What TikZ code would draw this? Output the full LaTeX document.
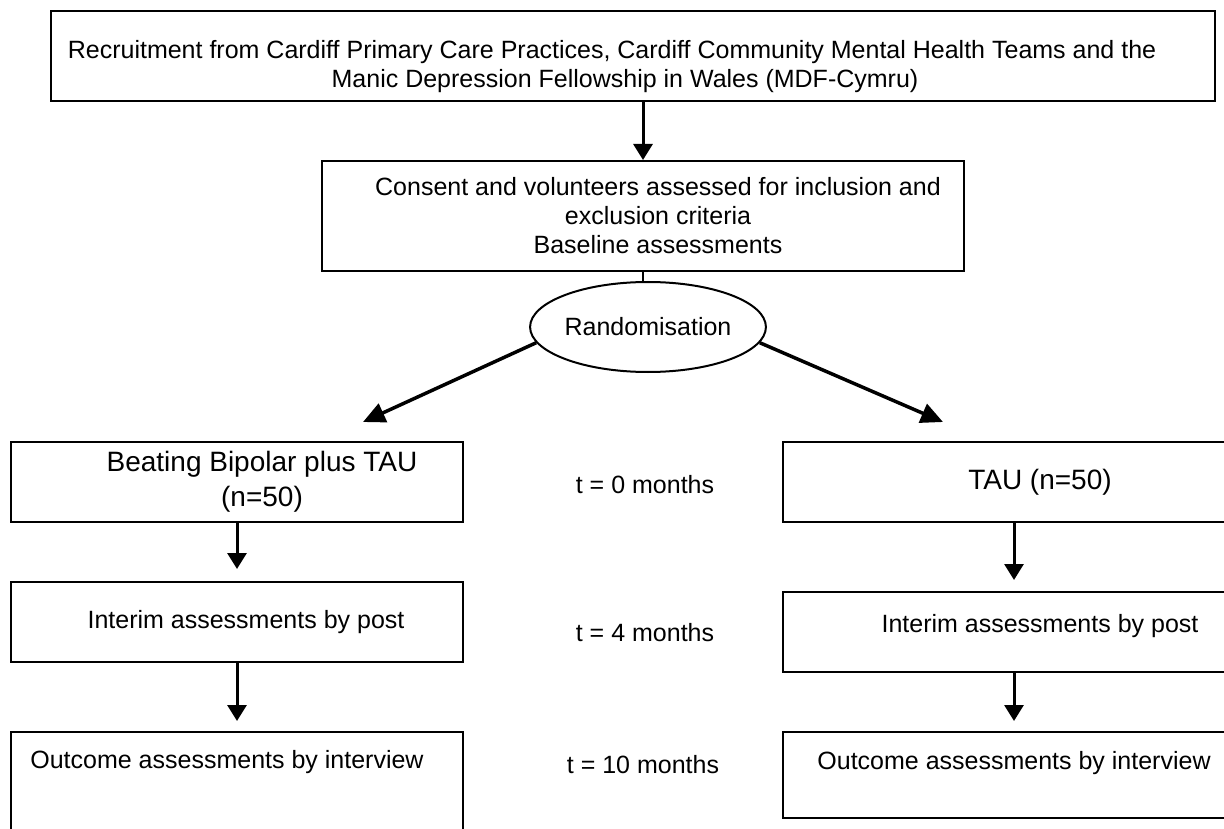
\documentclass[tikz,border=0pt]{standalone}
\usepackage{fontspec}
\setmainfont{Liberation Sans}
\usepackage{tikz}
\usetikzlibrary{shapes,shapes.geometric,arrows.meta,positioning}

\begin{document}
\begin{tikzpicture}[x=1pt,y=-1pt,
	  every node/.style={align=center,text=black,inner sep=0pt,font=\fontsize{25}{29}\selectfont},
	  stage/.style={draw,line width=2pt,rectangle},
	  arm/.style={draw,line width=2pt,rectangle,minimum width=452pt,minimum height=80pt},
	  tau/.style={arm,minimum width=462pt},
	  randomiser/.style={draw,line width=2pt,ellipse,minimum width=211pt,minimum height=90pt},
	  to/.style={-{Triangle[length=16pt,width=19pt]},line width=3pt},
	  split/.style={-{Triangle[length=22pt,width=20pt]},line width=3.5pt}]

	  \useasboundingbox (0,0) rectangle (1224,829);

	  % recruitment and randomisation
	  \node[stage,minimum width=1164pt,minimum height=90pt] (recruit) at (633,56) {\rule{0pt}{40pt}Recruitment from Cardiff Primary Care Practices, Cardiff Community Mental Health Teams and the\hspace*{42pt}\\ Manic Depression Fellowship in Wales (MDF-Cymru)\hspace*{16pt}};
	  \node[stage,minimum width=642pt,minimum height=110pt] (consent) at (643,216) {\hspace*{30pt}Consent and volunteers assessed for inclusion and\\ \hspace*{30pt}exclusion criteria\\ \hspace*{30pt}Baseline assessments};
	  \node[randomiser] (random) at (648,327) {Randomisation};

	  % the two arms
	  \node[arm,font=\fontsize{28}{35}\selectfont] (bbfirst) at (237,482) {\hspace*{50pt}Beating Bipolar plus TAU\\ \hspace*{50pt}(n=50)};
	  \node[arm] (bbinterim) at (237,622) {\hspace*{18pt}Interim assessments by post};
	  \node[arm,minimum height=112pt] (bboutcome) at (237,788) {Outcome assessments by interview\hspace*{20pt}\\ \mbox{}\\ \mbox{}};
	  \node[tau,font=\fontsize{28}{35}\selectfont] (taufirst) at (1014,482) {\hspace*{52pt}TAU (n=50)};
	  \node[tau] (tauinterim) at (1014,632) {\hspace*{52pt}Interim assessments by post\rule[-18pt]{0pt}{0pt}};
	  \node[tau,minimum height=86pt] (tauoutcome) at (1014,775) {Outcome assessments by interview\\ \mbox{}};

	  % time points
	  \node (tzero) at (645,485) {t = 0 months};
	  \node (tfour) at (645,633) {t = 4 months};
	  \node (tten) at (643,765) {t = 10 months};

	  \coordinate (bbtip) at (363,422);
	  \coordinate (tautip) at (943,422);
	  \draw[to] (recruit.south -| consent.north) -- (consent.north);
	  \draw[line width=2pt] (consent.south) -- (consent.south |- random.north);
	  \draw[split] (random.188) -- (bbtip);
	  \draw[split] (random.352) -- (tautip);
	  \draw[to,shorten >=12pt] (bbfirst) -- (bbinterim);
	  \draw[to,shorten >=10pt] (bbinterim) -- (bboutcome);
	  \draw[to,shorten >=11pt] (taufirst) -- (tauinterim);
	  \draw[to,shorten >=10pt] (tauinterim) -- (tauoutcome);
\end{tikzpicture}
\end{document}
